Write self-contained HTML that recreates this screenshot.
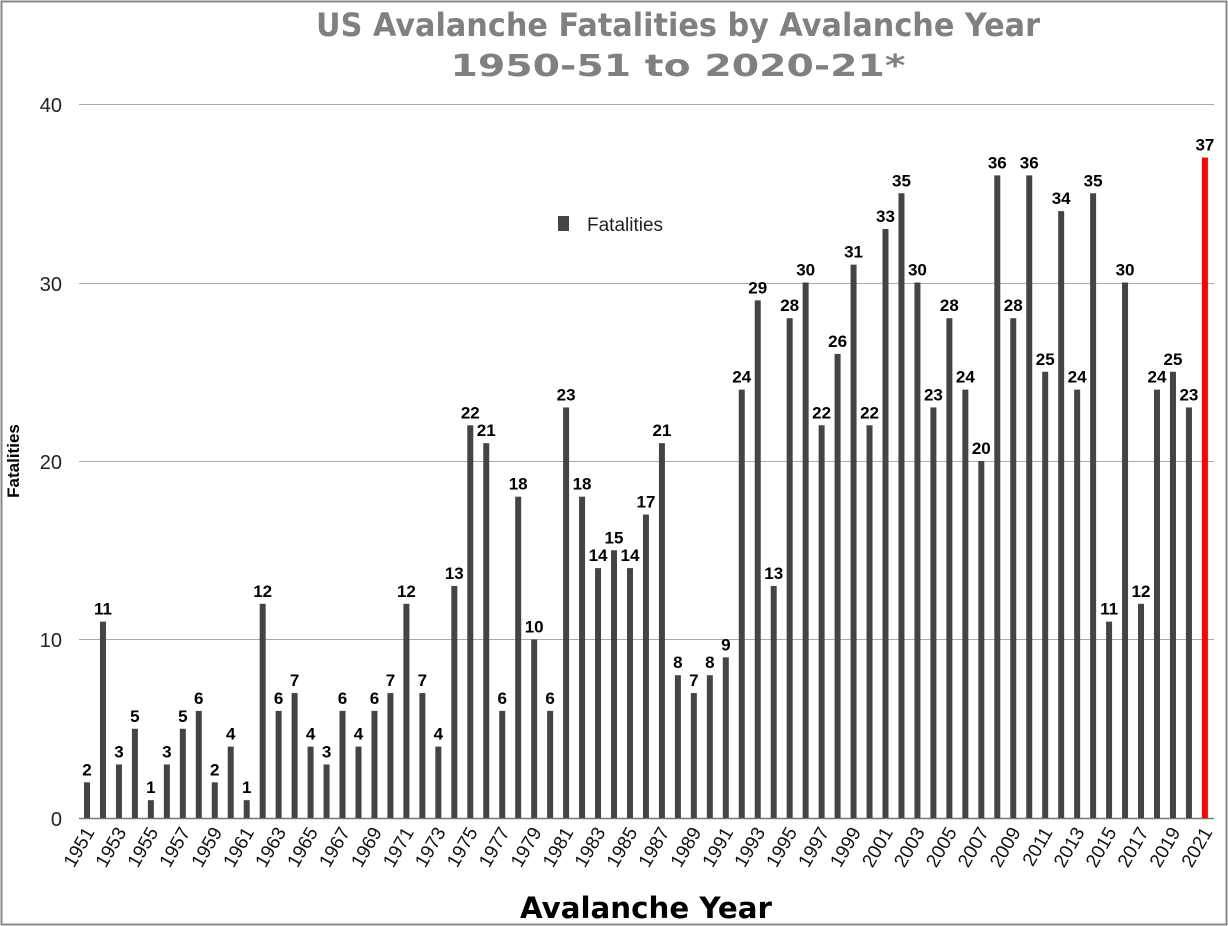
<!DOCTYPE html>
<html><head><meta charset="utf-8"><style>body{margin:0;background:#fff}svg{display:block}</style></head>
<body>
<svg id="s" width="1228" height="926" xmlns="http://www.w3.org/2000/svg" font-family="Liberation Sans, sans-serif">
<rect x="1.5" y="1.5" width="1225" height="923" fill="#fff" stroke="#888" stroke-width="2"/>
<text x="678" y="36" text-anchor="middle" font-size="32" font-weight="bold" fill="#808080" font-family="DejaVu Sans, sans-serif" textLength="724" lengthAdjust="spacingAndGlyphs">US Avalanche Fatalities by Avalanche Year</text>
<text x="678" y="76" text-anchor="middle" font-size="30" font-weight="bold" fill="#808080" font-family="DejaVu Sans, sans-serif" textLength="455" lengthAdjust="spacingAndGlyphs">1950-51 to 2020-21*</text>
<g stroke="#aaa" stroke-width="1">
<line x1="79" y1="104.5" x2="1214" y2="104.5"/><line x1="79" y1="283.5" x2="1214" y2="283.5"/>
<line x1="79" y1="461.5" x2="1214" y2="461.5"/><line x1="79" y1="639.5" x2="1214" y2="639.5"/>
</g>
<line x1="79" y1="818.5" x2="1214" y2="818.5" stroke="#777" stroke-width="1.5"/>
<g font-size="20" text-anchor="end" fill="#222">
<text x="62" y="112">40</text><text x="62" y="291">30</text><text x="62" y="469">20</text><text x="62" y="647">10</text><text x="62" y="826">0</text>
</g>
<text transform="translate(19,461) rotate(-90)" text-anchor="middle" font-size="17" font-weight="bold">Fatalities</text>
<text x="646" y="918" text-anchor="middle" font-size="29" font-weight="bold" font-family="DejaVu Sans, sans-serif" textLength="252" lengthAdjust="spacingAndGlyphs">Avalanche Year</text>
<rect x="558" y="216" width="11" height="15" fill="#444"/>
<text x="587" y="231" font-size="19" fill="#222">Fatalities</text>
<g id="bars"></g>
</svg>
<script>
var d=[2,11,3,5,1,3,5,6,2,4,1,12,6,7,4,3,6,4,6,7,12,7,4,13,22,21,6,18,10,6,23,18,14,15,14,17,21,8,7,8,9,24,29,13,28,30,22,26,31,22,33,35,30,23,28,24,20,36,28,36,25,34,24,35,11,30,12,24,25,23,37];
var g=document.getElementById('bars'),h='';
for(var i=0;i<d.length;i++){
 var x=87+i*15.97,y=818-d[i]*17.85,c=i==70?'#f00':'#444';
 h+='<rect x="'+(x-3)+'" y="'+y+'" width="6" height="'+(818-y)+'" fill="'+c+'"/>';
 h+='<text x="'+x+'" y="'+(y-7)+'" text-anchor="middle" font-size="17" font-weight="bold">'+d[i]+'</text>';
 if(i%2==0) h+='<text transform="translate('+(x+8)+',832) rotate(-60)" text-anchor="end" font-size="19" fill="#111">'+(1951+i)+'</text>';
}
g.innerHTML=h;
</script>
</body></html>
